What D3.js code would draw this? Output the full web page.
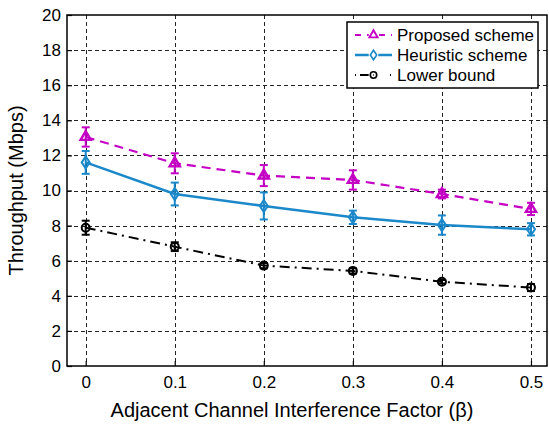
<!DOCTYPE html>
<html>
<head>
<meta charset="utf-8">
<script src="https://cdn.jsdelivr.net/npm/d3@7"></script>
<style>
  body { margin: 0; background: #fff; }
  svg { font-family: "Liberation Sans", Arial, sans-serif; }
</style>
</head>
<body>
<svg id="svg" width="549" height="425"></svg>
<script>
// beta values on the x axis
var betas = [0, 0.1, 0.2, 0.3, 0.4, 0.5];

// throughput (Mbps) and error bar half widths
var proposed = [13.05, 11.55, 10.85, 10.6, 9.8, 8.95];
var proposedErr = [0.55, 0.57, 0.6, 0.55, 0.25, 0.35];
var heuristic = [11.6, 9.8, 9.12, 8.47, 8.03, 7.79];
var heuristicErr = [0.65, 0.65, 0.77, 0.38, 0.55, 0.35];
var lower = [7.88, 6.8, 5.72, 5.42, 4.8, 4.47];
var lowerErr = [0.4, 0.25, 0.15, 0.15, 0.1, 0.2];

var xTicks = [0, 0.1, 0.2, 0.3, 0.4, 0.5];
var yTicks = [0, 2, 4, 6, 8, 10, 12, 14, 16, 18, 20];
var seriesNames = ["Proposed scheme", "Heuristic scheme", "Lower bound"];

// plot box (note: "top" is taken by window.top, so use other names)
var pLeft = 67, pRight = 547, pTop = 15, pBottom = 366;

var svg = d3.select("svg");

var x = d3.scaleLinear().domain([-0.021, 0.518]).range([pLeft, pRight]);
var y = d3.scaleLinear().domain([0, 20]).range([pBottom, pTop]);

// grid
var grid = svg.append("g")
  .attr("stroke", "#222")
  .attr("stroke-width", 1)
  .attr("stroke-dasharray", "4,3");
grid.selectAll(".gx").data(xTicks).enter().append("line")
  .attr("x1", d => Math.round(x(d)) + 0.5).attr("x2", d => Math.round(x(d)) + 0.5)
  .attr("y1", pTop).attr("y2", pBottom);
grid.selectAll(".gy").data(yTicks.slice(1, -1)).enter().append("line")
  .attr("y1", d => Math.round(y(d)) + 0.5).attr("y2", d => Math.round(y(d)) + 0.5)
  .attr("x1", pLeft).attr("x2", pRight);

// axes, ticks pointing inward
svg.append("g")
  .attr("transform", "translate(0," + pBottom + ")")
  .call(d3.axisBottom(x).tickValues(xTicks).tickSize(-5).tickPadding(10)
    .tickFormat(d => d === 0 ? "0" : d3.format(".1f")(d)))
  .call(g => g.select(".domain").remove())
  .call(g => g.selectAll("line").attr("stroke-width", 1.2))
  .selectAll("text").attr("font-size", 17).attr("fill", "#000")
  .attr("font-family", "Liberation Sans, Arial, sans-serif");

svg.append("g")
  .attr("transform", "translate(" + pLeft + ",0)")
  .call(d3.axisLeft(y).tickValues(yTicks).tickSize(-5).tickPadding(6))
  .call(g => g.select(".domain").remove())
  .call(g => g.selectAll("line").attr("stroke-width", 1.2))
  .selectAll("text").attr("font-size", 17).attr("fill", "#000")
  .attr("font-family", "Liberation Sans, Arial, sans-serif");

svg.append("rect")
  .attr("x", pLeft).attr("y", pTop)
  .attr("width", pRight - pLeft).attr("height", pBottom - pTop)
  .attr("fill", "none").attr("stroke", "#000").attr("stroke-width", 1.5);

svg.append("text")
  .attr("x", (pLeft + pRight) / 2 - 15).attr("y", 417)
  .attr("text-anchor", "middle").attr("font-size", 20)
  .text("Adjacent Channel Interference Factor (\u03b2)");

svg.append("text")
  .attr("transform", "translate(23," + ((pTop + pBottom) / 2) + ") rotate(-90)")
  .attr("text-anchor", "middle").attr("font-size", 20)
  .text("Throughput (Mbps)");

var series = [
  { name: seriesNames[0], vals: proposed, err: proposedErr, color: "#c400c4", dash: "9,6", width: 2.2, marker: "tri" },
  { name: seriesNames[1], vals: heuristic, err: heuristicErr, color: "#1a88c9", dash: null, width: 2.5, marker: "dia" },
  { name: seriesNames[2], vals: lower, err: lowerErr, color: "#000", dash: "10,5,2,5", width: 2, marker: "circ" }
];

var line = d3.line().x(d => x(d[0])).y(d => y(d[1]));

function drawMarker(g, type, color) {
  if (type === "tri") {
    g.append("path").attr("d", d3.symbol(d3.symbolTriangle, 45)())
      .attr("fill", "none").attr("stroke", color).attr("stroke-width", 2.4);
  } else if (type === "dia") {
    g.append("path").attr("d", "M0,-6L4,0L0,6L-4,0Z")
      .attr("fill", "none").attr("stroke", color).attr("stroke-width", 2);
  } else {
    g.append("circle").attr("r", 4).attr("fill", "none").attr("stroke", color).attr("stroke-width", 2);
    g.append("circle").attr("r", 0.8).attr("fill", color);
  }
}

series.forEach(function(s) {
  var pts = betas.map((b, i) => [b, s.vals[i], s.err[i]]);
  var g = svg.append("g");
  g.append("path").datum(pts)
    .attr("d", line)
    .attr("fill", "none")
    .attr("stroke", s.color)
    .attr("stroke-width", s.width)
    .attr("stroke-dasharray", s.dash);
  var eb = g.selectAll(".eb").data(pts).enter().append("g")
    .attr("stroke", s.color).attr("stroke-width", 2);
  eb.append("line")
    .attr("x1", d => x(d[0])).attr("x2", d => x(d[0]))
    .attr("y1", d => y(d[1] - d[2])).attr("y2", d => y(d[1] + d[2]));
  eb.append("line")
    .attr("x1", d => x(d[0]) - 4).attr("x2", d => x(d[0]) + 4)
    .attr("y1", d => y(d[1] - d[2])).attr("y2", d => y(d[1] - d[2]));
  eb.append("line")
    .attr("x1", d => x(d[0]) - 4).attr("x2", d => x(d[0]) + 4)
    .attr("y1", d => y(d[1] + d[2])).attr("y2", d => y(d[1] + d[2]));
  g.selectAll(".mk").data(pts).enter().append("g")
    .attr("transform", d => "translate(" + x(d[0]) + "," + y(d[1]) + ")")
    .each(function() { drawMarker(d3.select(this), s.marker, s.color); });
});

// legend
var lg = svg.append("g").attr("transform", "translate(347,22)");
lg.append("rect").attr("width", 191).attr("height", 66)
  .attr("fill", "#fff").attr("stroke", "#000").attr("stroke-width", 1.5);
series.forEach(function(s, i) {
  var yy = 13 + i * 20;
  lg.append("line").attr("x1", 8).attr("x2", 45).attr("y1", yy).attr("y2", yy)
    .attr("stroke", s.color).attr("stroke-width", s.width)
    .attr("stroke-dasharray", s.dash ? (s.marker === "tri" ? "6,6" : "1,4,10,20") : null);
  var m = lg.append("g").attr("transform", "translate(26.5," + yy + ") scale(0.8)");
  m.append("rect").attr("x", -6).attr("y", -6).attr("width", 12).attr("height", 12).attr("fill", "#fff");
  drawMarker(m, s.marker, s.color);
  lg.append("text").attr("x", 50).attr("y", yy + 6).attr("font-size", 17).text(s.name);
});
</script>
</body>
</html>
